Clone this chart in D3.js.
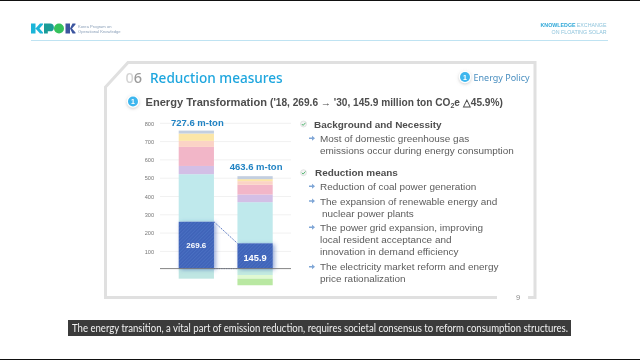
<!DOCTYPE html>
<html lang="en">
  <head>
    <meta charset="utf-8" />
    <title>Reduction measures</title>
    <script src="https://d3js.org/d3.v7.min.js"></script>
    <style>
      html, body { margin: 0; padding: 0; background: #fff; overflow: hidden; }
      svg { display: block; font-family: "Liberation Sans", Arial, sans-serif; }
      .soft { filter: blur(0.35px); }
    </style>
  </head>
  <body>
    <svg id="slide" width="640" height="360"></svg>
    <script>
      // chart values
      var years = ["2018", "2030"];
      var totalLabels = ["727.6 m-ton", "463.6 m-ton"];
      var blueLabels = ["269.6", "145.9"];
      var yTicks = [100, 200, 300, 400, 500, 600, 700, 800];
      var baseValue = 6; // the drawn axis sits a little above the tick scale's zero
      var upperColors = ["#3f63b8", "#bfe9ec", "#d3bfe6", "#f2b6c8", "#fbd3c6", "#fbe6a8", "#c3cfe0"];
      var upper2018 = [256, 260, 45, 104, 33, 40, 16];
      var upper2030 = [138, 225, 42, 53, 20, 11, 16];
      var lowerColors2018 = ["#bfe6e2"];
      var lower2018 = [55];
      var lowerColors2030 = ["#c4ebe0", "#e0f9d2", "#b9e8a2"];
      var lower2030 = [35, 20, 36];

      var rows = [
        { kind: "head", x: 314, y: 124, text: "Background and Necessity" },
        { kind: "item", x: 320, y: 138.3, text: "Most of domestic greenhouse gas" },
        { kind: "line", x: 320, y: 150, text: "emissions occur during energy consumption" },
        { kind: "head", x: 315, y: 172.7, text: "Reduction means" },
        { kind: "item", x: 320, y: 186.3, text: "Reduction of coal power generation" },
        { kind: "item", x: 320, y: 201, text: "The expansion of renewable energy and" },
        { kind: "line", x: 322, y: 213.3, text: "nuclear power plants" },
        { kind: "item", x: 320, y: 227.3, text: "The power grid expansion, improving" },
        { kind: "line", x: 320, y: 239.3, text: "local resident acceptance and" },
        { kind: "line", x: 320, y: 251.3, text: "innovation in demand efficiency" },
        { kind: "item", x: 320, y: 266.7, text: "The electricity market reform and energy" },
        { kind: "line", x: 320, y: 278.3, text: "price rationalization" },
      ];
      var caption = "The energy transition, a vital part of emission reduction, requires societal consensus to reform consumption structures.";

      var svg = d3.select("#slide");
      var defs = svg.append("defs");

      var hatch = defs.append("pattern")
        .attr("id", "hatch").attr("width", 2.5).attr("height", 2.5)
        .attr("patternUnits", "userSpaceOnUse").attr("patternTransform", "rotate(45)");
      hatch.append("rect").attr("width", 2.5).attr("height", 2.5).attr("fill", "#3f63b8");
      hatch.append("rect").attr("width", 1).attr("height", 2.5).attr("fill", "#4a6fc2");

      var glow = defs.append("filter").attr("id", "glow")
        .attr("x", "-30%").attr("y", "-30%").attr("width", "160%").attr("height", "160%");
      glow.append("feDropShadow").attr("dx", 2).attr("dy", 1).attr("stdDeviation", 2)
        .attr("flood-color", "#3f63b8").attr("flood-opacity", 0.55);

      var halo = defs.append("filter").attr("id", "halo")
        .attr("x", "-60%").attr("y", "-60%").attr("width", "220%").attr("height", "220%");
      halo.append("feDropShadow").attr("dx", 0).attr("dy", 1).attr("stdDeviation", 1.5)
        .attr("flood-color", "#999").attr("flood-opacity", 0.5);

      var page = svg.append("g").attr("class", "soft");

      // black rows at top and bottom of the video frame
      page.append("rect").attr("width", 640).attr("height", 1).attr("fill", "#111");
      page.append("rect").attr("y", 359).attr("width", 640).attr("height", 1).attr("fill", "#111");

      // header
      page.append("line").attr("x1", 31).attr("x2", 608).attr("y1", 40.5).attr("y2", 40.5)
        .attr("stroke", "#bfe3f2").attr("stroke-width", 1);

      var logo = page.append("g");
      logo.append("path").attr("d", "M31 23.5h4.5v10H31zM35.5 28.5L40 23.5h3v1L39.5 28.5l3.5 4v1h-3z").attr("fill", "#1cb5d8");
      logo.append("path").attr("d", "M44 23.5h6a3.9 3.9 0 0 1 0 7.8h-2.2v2.2H44z").attr("fill", "#1a9c97");
      logo.append("circle").attr("cx", 59).attr("cy", 28.5).attr("r", 5).attr("fill", "#35c25c");
      logo.append("path").attr("d", "M65.5 23.5H70v10h-4.5zM70 28.5L72.5 23.5h3v1L72 28.5l3.5 4v1h-3z").attr("fill", "#3c559f");
      logo.append("text").attr("x", 78).attr("y", 28).attr("font-size", 4.1).attr("fill", "#8a9fb8").text("Korea Program on");
      logo.append("text").attr("x", 78).attr("y", 33.2).attr("font-size", 4.1).attr("fill", "#8a9fb8").text("Operational Knowledge");

      var tag = page.append("text").attr("text-anchor", "end").attr("font-size", 5.3);
      tag.append("tspan").attr("x", 606.5).attr("y", 27).attr("fill", "#2fa8d8").attr("font-weight", "bold").text("KNOWLEDGE");
      tag.append("tspan").attr("dx", 1.2).attr("fill", "#8fc4dc").text("EXCHANGE");
      page.append("text").attr("x", 606.5).attr("y", 34.3).attr("text-anchor", "end")
        .attr("font-size", 5.3).attr("fill", "#8fc4dc").text("ON FLOATING SOLAR");

      // slide frame, open at the page number
      page.append("path")
        .attr("d", "M497 297.5H105.5V87L128 62.5H535V297.5H528")
        .attr("fill", "none").attr("stroke", "#e0e0e0").attr("stroke-width", 3);
      page.append("text").attr("x", 518).attr("y", 299.5).attr("text-anchor", "middle")
        .attr("font-size", 7.5).attr("fill", "#888").text("9");

      // titles
      var num = page.append("text").attr("x", 125.5).attr("y", 82.5).attr("font-size", 14.5)
        .attr("font-family", "'Noto Sans'").attr("font-weight", 500);
      num.append("tspan").attr("fill", "#d4d4d4").text("0");
      num.append("tspan").attr("fill", "#9a9a9a").text("6");
      page.append("text").attr("x", 150).attr("y", 82.5).attr("font-size", 13.6).attr("font-weight", 500)
        .attr("font-family", "'Noto Sans'").attr("fill", "#1ea6de").text("Reduction measures");

      function badge(x, y, r) {
        page.append("circle").attr("cx", x).attr("cy", y).attr("r", r + 1.2).attr("fill", "#fff").attr("filter", "url(#halo)");
        page.append("circle").attr("cx", x).attr("cy", y).attr("r", r).attr("fill", "#3db6ee");
        page.append("text").attr("x", x).attr("y", y + 2.5).attr("text-anchor", "middle")
          .attr("font-size", 7).attr("font-weight", "bold").attr("fill", "#fff").text("1");
      }
      badge(465, 77, 5);
      page.append("text").attr("x", 473.5).attr("y", 80.5).attr("font-size", 9).attr("fill", "#4a8fc0")
        .attr("font-family", "'Noto Sans'").text("Energy Policy");
      badge(133, 101.5, 5);

      var heading = page.append("text").attr("x", 145.5).attr("y", 105.7).attr("fill", "#4d4d4d").attr("font-weight", "bold");
      heading.append("tspan").attr("font-size", 11.1).text("Energy Transformation ");
      heading.append("tspan").attr("font-size", 10.15).text("('18, 269.6 \u2192 '30, 145.9 million ton CO");
      heading.append("tspan").attr("font-size", 7).attr("dy", 2).text("2");
      heading.append("tspan").attr("font-size", 10.15).attr("dy", -2).text("e \u25b3" + "45.9%)");

      // chart
      var y = d3.scaleLinear().domain([0, 800]).range([269.7, 123.3]);
      var x = d3.scaleBand().domain(years).range([178.7, 272.7]).paddingInner(0.4);

      page.append("g").selectAll("line").data(yTicks).enter().append("line")
        .attr("x1", 160).attr("x2", 291)
        .attr("y1", (d) => y(d)).attr("y2", (d) => y(d))
        .attr("stroke", "#f1f1f1");

      var axisG = page.append("g").attr("transform", "translate(154,0)")
        .call(d3.axisLeft(y).tickValues(yTicks).tickSize(0).tickPadding(0));
      axisG.select(".domain").remove();
      axisG.selectAll("text").attr("font-size", 5.6).attr("font-family", "'Liberation Sans'").attr("fill", "#777");

      function stackDown(year, values, colors) {
        var sum = baseValue;
        values.forEach(function (v, i) {
          page.append("rect").attr("x", x(year)).attr("width", x.bandwidth())
            .attr("y", y(sum)).attr("height", y(sum - v) - y(sum))
            .attr("fill", colors[i]);
          sum -= v;
        });
      }
      function stackUp(year, values) {
        // pale segments first so the blue glow falls over them
        var sum = baseValue + values[0];
        values.slice(1).forEach(function (v, i) {
          page.append("rect").attr("x", x(year)).attr("width", x.bandwidth())
            .attr("y", y(sum + v)).attr("height", y(sum) - y(sum + v))
            .attr("fill", upperColors[i + 1]);
          sum += v;
        });
        page.append("rect").attr("x", x(year)).attr("width", x.bandwidth())
          .attr("y", y(baseValue + values[0])).attr("height", y(baseValue) - y(baseValue + values[0]))
          .attr("fill", "url(#hatch)").attr("filter", "url(#glow)");
      }
      stackDown(years[0], lower2018, lowerColors2018);
      stackDown(years[1], lower2030, lowerColors2030);
      stackUp(years[0], upper2018);
      stackUp(years[1], upper2030);

      // connectors between the two blue blocks
      var b0 = x(years[0]) + x.bandwidth();
      var b1 = x(years[1]);
      var conn = [
        [b0, y(baseValue + upper2018[0]), b1, y(baseValue + upper2030[0])],
        [b0, y(baseValue), b1, y(baseValue)],
      ];
      page.selectAll(".conn").data(conn).enter().append("line").attr("class", "conn")
        .attr("x1", (d) => d[0]).attr("y1", (d) => d[1]).attr("x2", (d) => d[2]).attr("y2", (d) => d[3])
        .attr("stroke", "#3f63b8").attr("stroke-width", 0.9).attr("stroke-dasharray", "1.4 1");

      page.append("line").attr("x1", 160).attr("x2", 291).attr("y1", y(baseValue)).attr("y2", y(baseValue))
        .attr("stroke", "#777").attr("stroke-width", 0.9);

      var tops = [d3.sum(upper2018), d3.sum(upper2030)];
      page.selectAll(".total").data(totalLabels).enter().append("text").attr("class", "total")
        .attr("x", (d, i) => x(years[i]) + x.bandwidth() / 2 + 1)
        .attr("y", (d, i) => y(tops[i] + baseValue) - (i == 0 ? 5 : 6))
        .attr("text-anchor", "middle").attr("font-size", 9.5).attr("font-weight", "bold")
        .attr("fill", "#2183c3").text((d) => d);

      page.append("text").attr("x", x(years[0]) + x.bandwidth() / 2).attr("y", 248).attr("text-anchor", "middle")
        .attr("font-size", 8).attr("font-weight", "bold").attr("fill", "#fff").text(blueLabels[0]);
      page.append("text").attr("x", x(years[1]) + x.bandwidth() / 2).attr("y", 260.5).attr("text-anchor", "middle")
        .attr("font-size", 9.3).attr("font-weight", "bold").attr("fill", "#fff").text(blueLabels[1]);

      // right hand text
      rows.forEach(function (row) {
        page.append("text").attr("x", row.x).attr("y", row.y + 3.6)
          .attr("font-size", 9.95)
          .attr("font-weight", row.kind == "head" ? "bold" : "normal")
          .attr("fill", row.kind == "head" ? "#4d4d4d" : "#5c5c5c")
          .text(row.text);
        if (row.kind == "head") {
          page.append("circle").attr("cx", 303.5).attr("cy", row.y).attr("r", 3).attr("fill", "#f4f4f4").attr("stroke", "#ccc").attr("stroke-width", 0.5);
          page.append("path").attr("d", `M301.8 ${row.y}l1.3 1.4l2.4 -2.6`).attr("fill", "none").attr("stroke", "#3fae62").attr("stroke-width", 0.9);
        }
        if (row.kind == "item") {
          page.append("path").attr("d", `M309 ${row.y - 0.8}h3v-1.7l3 2.5l-3 2.5v-1.7h-3z`).attr("fill", "#7fa6d6");
        }
      });

      // subtitle bar
      page.append("rect").attr("x", 68).attr("y", 320).attr("width", 503).attr("height", 16).attr("fill", "#3b3b3b");
      page.append("text").attr("x", 72).attr("y", 332).attr("textLength", 496).attr("lengthAdjust", "spacingAndGlyphs")
        .attr("font-family", "Lato").attr("font-size", 10.6).attr("fill", "#f2f2f2").text(caption);
    </script>
  </body>
</html>
